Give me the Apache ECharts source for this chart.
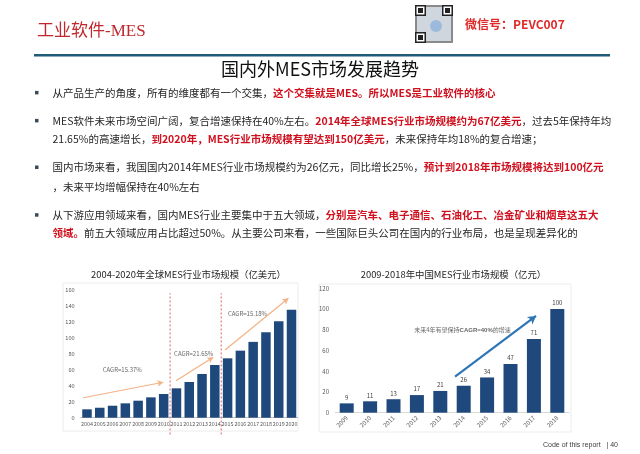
<!DOCTYPE html>
<html><head><meta charset="utf-8">
<script src="https://cdn.jsdelivr.net/npm/echarts@6/dist/echarts.min.js"></script>
<style>html,body{margin:0;padding:0;background:#fff}#c{width:640px;height:454px}</style>
</head><body><div id="c"></div>
<script>
// ---- data ----
const globalYears = ['2004','2005','2006','2007','2008','2009','2010','2011','2012','2013','2014','2015','2016','2017','2018','2019','2020'];
const globalValues = [10.5,12.5,15,18,21.3,25.5,29.7,36.8,44.7,54.8,66,74.4,84,95,107,120.8,135.3];
const globalTicks = [0,20,40,60,80,100,120,140,160];
const chinaYears = ['2009','2010','2011','2012','2013','2014','2015','2016','2017','2018'];
const chinaValues = [9,11,13,17,21,26,34,47,71,100];
const chinaTicks = [0,20,40,60,80,100,120];
// annotations in data units (category index, value)
const globalDividers = [6.5, 10.5];
const globalArrows = [[[-0.29,25],[5.97,44.4]], [[6.96,46.4],[9.88,75.7]], [[10.8,84.8],[15.76,149.6]]];
const globalCagr = [[2.76,59.8,'CAGR=15.37%'],[8.35,79.8,'CAGR=21.65%'],[12.56,130.8,'CAGR=15.18%']];
const chinaArrow = [[4.63,34.7],[8.09,93.3]];
const chinaNote = [4.95,79.8,'未来4年有望保持CAGR=40%的增速'];

const CJK = '"Noto Sans CJK SC","Noto Sans",sans-serif';
const navy = '#1f497d';
const red = '#d0101e';

const chart = echarts.init(document.getElementById('c'), null, {renderer:'canvas'});

function axisLabelStyle(){ return {fontSize:6, color:'#595959', fontFamily:CJK}; }

const bodyLines = [
  {y:92.7, bullet:true, parts:[['n','从产品生产的角度，所有的维度都有一个交集，'],['r','这个交集就是MES。所以MES是工业软件的核心']]},
  {y:120.7, bullet:true, parts:[['n','MES软件未来市场空间广阔，复合增速保持在40%左右。'],['r','2014年全球MES行业市场规模约为67亿美元'],['n','，过去5年保持年均']]},
  {y:139, bullet:false, parts:[['n','21.65%的高速增长，'],['r','到2020年，MES行业市场规模有望达到150亿美元'],['n','，未来保持年均18%的复合增速；']]},
  {y:167.3, bullet:true, parts:[['n','国内市场来看，我国国内2014年MES行业市场规模约为26亿元，同比增长25%，'],['r','预计到2018年市场规模将达到100亿元']]},
  {y:186.7, bullet:false, parts:[['n','，未来平均增幅保持在40%左右']]},
  {y:215, bullet:true, parts:[['n','从下游应用领域来看，国内MES行业主要集中于五大领域，'],['r','分别是汽车、电子通信、石油化工、冶金矿业和烟草这五大']]},
  {y:233.3, bullet:false, parts:[['r','领域。'],['n','前五大领域应用占比超过50%。从主要公司来看，一些国际巨头公司在国内的行业布局，也是呈现差异化的']]}
];

const graphics = [];
// header
graphics.push({type:'text', left:37, top:23, style:{text:'工业软件-MES', fill:'#c0282e', font:'17px "Liberation Serif","Noto Sans CJK SC",serif'}});
graphics.push({type:'text', left:465, top:18, style:{text:'微信号：PEVC007', fill:'#e02a2a', font:'bold 12px "Noto Sans CJK SC",sans-serif'}});
// QR code stylised
const qx=415, qy=5, qs=38;
graphics.push({type:'rect', shape:{x:qx,y:qy,width:qs,height:qs}, style:{fill:'#8a8a8a'}});
graphics.push({type:'rect', shape:{x:qx+2,y:qy+2,width:qs-4,height:qs-4}, style:{fill:'#cfd6de'}});
[[0,0],[qs-11,0],[0,qs-11]].forEach(function(p){
  graphics.push({type:'rect', shape:{x:qx+p[0],y:qy+p[1],width:11,height:11}, style:{fill:'#222'}});
  graphics.push({type:'rect', shape:{x:qx+p[0]+1.5,y:qy+p[1]+1.5,width:8,height:8}, style:{fill:'#fff'}});
  graphics.push({type:'rect', shape:{x:qx+p[0]+3,y:qy+p[1]+3,width:5,height:5}, style:{fill:'#222'}});
});
graphics.push({type:'circle', shape:{cx:qx+qs/2+2, cy:qy+qs/2+2, r:6}, style:{fill:'#8fb3d9', opacity:0.8}});
// blue rule
graphics.push({type:'rect', shape:{x:34,y:54,width:576,height:2.5}, style:{fill:'#1f5c7a'}});
// title
graphics.push({type:'text', x:320, y:69, style:{text:'国内外MES市场发展趋势', fill:'#111', font:'18px '+CJK, textAlign:'center', textVerticalAlign:'middle'}});
// body
bodyLines.forEach(function(l){
  if(l.bullet) graphics.push({type:'rect', shape:{x:35,y:l.y-1.8,width:3.5,height:3.5}, style:{fill:'#3b4a5a'}});
  graphics.push({type:'text', x:52.5, y:l.y, style:{
    text: l.parts.map(function(p){return '{'+p[0]+'|'+p[1]+'}';}).join(''),
    textVerticalAlign:'middle',
    rich:{
      n:{fontSize:10.5, fill:'#262626', fontFamily:CJK},
      r:{fontSize:10.5, fill:red, fontWeight:'bold', fontFamily:CJK}
    }
  }});
});
// chart frames
graphics.push({type:'rect', shape:{x:63,y:283,width:235,height:148}, style:{fill:'none', stroke:'#ececec', lineWidth:1}});
graphics.push({type:'rect', shape:{x:319,y:284,width:252,height:148}, style:{fill:'none', stroke:'#ececec', lineWidth:1}});
// chart titles
graphics.push({type:'text', x:188.5, y:274, style:{text:'2004-2020年全球MES行业市场规模（亿美元）', fill:'#262626', font:'9.4px '+CJK, textAlign:'center', textVerticalAlign:'middle'}});
graphics.push({type:'text', x:453.5, y:274, style:{text:'2009-2018年中国MES行业市场规模（亿元）', fill:'#262626', font:'9.4px '+CJK, textAlign:'center', textVerticalAlign:'middle'}});
// footer
graphics.push({type:'text', x:543, y:445, style:{text:'Code of this report   | 40', fill:'#404040', font:'7px "Liberation Sans",Arial,sans-serif', textVerticalAlign:'middle'}});

const option = {
  animation:false,
  backgroundColor:'#fff',
  grid:[
    {left:80.6, top:290, width:217.3, height:127.7, containLabel:false},
    {left:335, top:288.3, width:234, height:124.4, containLabel:false}
  ],
  xAxis:[
    {gridIndex:0, type:'category', data:globalYears, axisTick:{show:false}, axisLine:{lineStyle:{color:'#bfbfbf'}}, axisLabel:Object.assign(axisLabelStyle(),{fontSize:5.4, margin:4, interval:0})},
    {gridIndex:1, type:'category', data:chinaYears, axisTick:{show:false}, axisLine:{lineStyle:{color:'#d9d9d9'}}, axisLabel:Object.assign(axisLabelStyle(),{margin:4, interval:0, rotate:45})},
    {gridIndex:0, type:'value', min:-0.5, max:globalYears.length-0.5, show:false},
    {gridIndex:1, type:'value', min:-0.5, max:chinaYears.length-0.5, show:false}
  ],
  yAxis:[
    {gridIndex:0, type:'value', min:globalTicks[0], max:globalTicks[globalTicks.length-1], interval:globalTicks[1]-globalTicks[0], splitLine:{show:false}, axisLine:{show:false}, axisTick:{show:false}, axisLabel:Object.assign(axisLabelStyle(),{fontSize:5.6, margin:6})},
    {gridIndex:1, type:'value', min:chinaTicks[0], max:chinaTicks[chinaTicks.length-1], interval:chinaTicks[1]-chinaTicks[0], splitLine:{show:false}, axisLine:{show:false}, axisTick:{show:false}, axisLabel:Object.assign(axisLabelStyle(),{margin:6})}
  ],
  series:[
    {type:'bar', xAxisIndex:0, yAxisIndex:0, data:globalValues, barWidth:9.5, itemStyle:{color:navy}, silent:true},
    {type:'bar', xAxisIndex:1, yAxisIndex:1, data:chinaValues, barWidth:14, itemStyle:{color:navy}, silent:true,
      label:{show:true, position:'top', distance:3, fontSize:6, color:'#404040', fontFamily:CJK}},
  ].concat(globalDividers.map(function(d){
    return {type:'line', xAxisIndex:2, yAxisIndex:0, data:[[d,-21],[d,156]], symbol:'none', clip:false, silent:true,
      lineStyle:{color:'#e06060', width:1, type:[2,2]}};
  })).concat([
    {type:'scatter', xAxisIndex:2, yAxisIndex:0, symbolSize:0, silent:true,
      data:globalCagr.map(function(c){return {value:[c[0],c[1]], name:c[2]};}),
      label:{show:true, position:'inside', formatter:'{b}', fontSize:6, color:'#404040', fontFamily:CJK},
      markLine:{silent:true, symbol:['none','arrow'], symbolSize:[5,6], label:{show:false},
        lineStyle:{color:'#f4b183', width:1.2, type:'solid'},
        data:globalArrows.map(function(a){return [{coord:a[0]},{coord:a[1]}];})}
    },
    {type:'scatter', xAxisIndex:3, yAxisIndex:1, symbolSize:0, silent:true,
      data:[{value:[chinaNote[0],chinaNote[1]], name:chinaNote[2]}],
      label:{show:true, position:'inside', formatter:'{a|未来4年有望保持}{b|CAGR=40%}{a|的增速}', rich:{
        a:{fontSize:6, color:'#404040', fontFamily:'"Noto Sans CJK SC",serif'},
        b:{fontSize:6, color:'#404040', fontWeight:'bold', fontFamily:'"Liberation Sans",sans-serif'}}},
      markLine:{silent:true, symbol:['none','arrow'], symbolSize:[7,8], label:{show:false},
        lineStyle:{color:'#2e75b6', width:2.2, type:'solid'},
        data:[[{coord:chinaArrow[0]},{coord:chinaArrow[1]}]]}
    }
  ]),
  graphic:graphics
};
chart.setOption(option);
</script>
</body></html>
